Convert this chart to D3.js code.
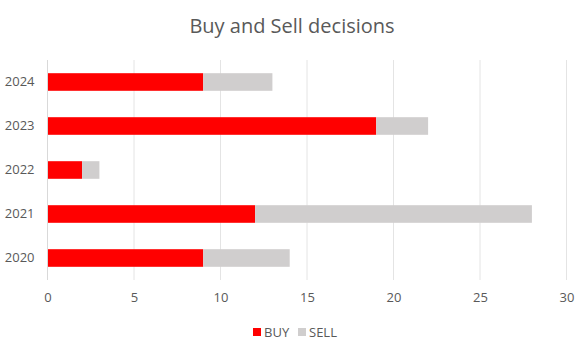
<!DOCTYPE html>
<html>
<head>
<meta charset="utf-8">
<script src="https://cdn.jsdelivr.net/npm/d3@7/dist/d3.min.js"></script>
<style>
  html, body { margin: 0; padding: 0; background: #fff; }
  text { font-family: "Open Sans", "Liberation Sans", sans-serif; fill: #595959; }
</style>
</head>
<body>
<svg id="chart" width="582" height="347"></svg>
<script>
const years = ["2020", "2021", "2022", "2023", "2024"];
const buy = [9, 12, 2, 19, 9];
const sell = [5, 16, 1, 3, 4];
const xTicks = [0, 5, 10, 15, 20, 25, 30];
const seriesNames = ["BUY", "SELL"];
const seriesColors = ["#ff0000", "#d0cece"];

const svg = d3.select("#chart");
const W = 582, H = 347;
const margin = { left: 47.5, right: 15.5, top: 60, bottom: 67 };

const rows = years.map((y, i) => ({ year: y, BUY: buy[i], SELL: sell[i] }));
const stacked = d3.stack().keys(seriesNames)(rows);

const x = d3.scaleLinear().domain([0, 30]).range([margin.left, W - margin.right]);
const y = d3.scaleBand().domain(years.slice().reverse())
  .range([margin.top, H - margin.bottom]).paddingInner(0.6).paddingOuter(0.3);

// title
svg.append("text").attr("x", W / 2 + 1).attr("y", 33).attr("text-anchor", "middle")
  .style("font-size", "20px").text("Buy and Sell decisions");

// vertical gridlines
svg.append("g").selectAll("line").data(xTicks.slice(1)).join("line")
  .attr("x1", d => x(d)).attr("x2", d => x(d))
  .attr("y1", margin.top).attr("y2", H - margin.bottom)
  .attr("stroke", "#e4e4e4").attr("stroke-width", 1);

// bars
svg.append("g").selectAll("g").data(stacked).join("g")
  .attr("fill", (d, i) => seriesColors[i])
  .selectAll("rect").data(d => d).join("rect")
  .attr("x", d => x(d[0]))
  .attr("width", d => x(d[1]) - x(d[0]))
  .attr("y", d => y(d.data.year))
  .attr("height", y.bandwidth());

// category axis line
svg.append("line").attr("x1", x(0)).attr("x2", x(0))
  .attr("y1", margin.top).attr("y2", H - margin.bottom)
  .attr("stroke", "#d9d9d9").attr("stroke-width", 1);

// x-axis labels
const xAxis = d3.axisBottom(x).tickValues(xTicks).tickSize(0).tickPadding(0);
const gx = svg.append("g").attr("transform", `translate(0,${H - margin.bottom + 22})`).call(xAxis);
gx.select(".domain").remove();
gx.selectAll("text").style("font-size", "13px").style("font-family", "'Open Sans', sans-serif").attr("fill", "#595959").attr("dy", "0");

// y-axis labels
const yAxis = d3.axisLeft(y).tickSize(0).tickPadding(0);
const gy = svg.append("g").attr("transform", `translate(${x(0) - 13},0)`).call(yAxis);
gy.select(".domain").remove();
gy.selectAll("text").style("font-size", "13px").style("font-family", "'Open Sans', sans-serif").attr("fill", "#595959");

// legend
const legend = svg.append("g").attr("transform", "translate(253,332)");
const legendX = [0, 45];
seriesNames.forEach((name, i) => {
  const g = legend.append("g").attr("transform", `translate(${legendX[i]},0)`);
  g.append("rect").attr("x", 0).attr("y", -4).attr("width", 8).attr("height", 8).attr("fill", seriesColors[i]);
  g.append("text").attr("x", 11).attr("y", 4.5).style("font-size", "13px").text(name);
});
</script>
</body>
</html>
